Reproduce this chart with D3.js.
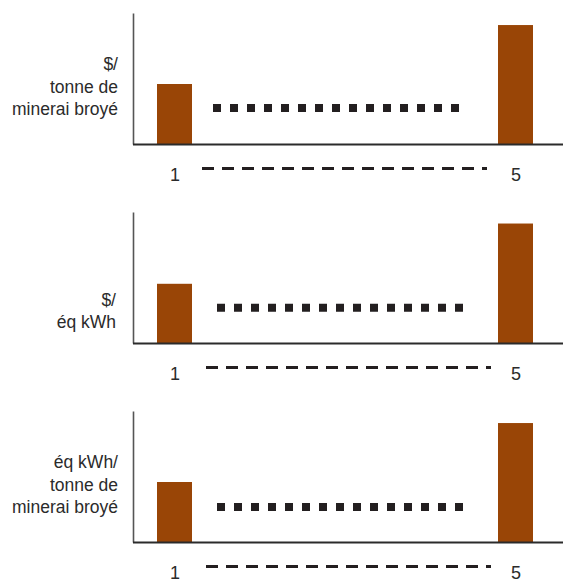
<!DOCTYPE html>
<html>
<head>
<meta charset="utf-8">
<script src="https://cdn.jsdelivr.net/npm/d3@7"></script>
<style>
  html, body { margin: 0; padding: 0; background: #fff; }
  svg { display: block; }
  text { font-family: "Liberation Sans", Arial, sans-serif; fill: #2b2b2b; }
</style>
</head>
<body>
<svg id="chart" width="563" height="582"></svg>
<script>
// ---- data ----
const categories = ["1", "2", "3", "4", "5"];
const shownCategories = ["1", "5"];
const panelLabels = [
  ["$/", "tonne de", "minerai broyé"],
  ["$/", "éq kWh"],
  ["éq kWh/", "tonne de", "minerai broyé"]
];
const firstValues = [45.8, 45.2, 45.8];
const lastValues = [90.8, 91.2, 90.8];
const ellipsisLevels = [27.5, 26.9, 26.7];

// ---- layout ----
const W = 563;
const panelTops = [13, 212, 411];
const panelH = 131;
const axisX = 133;
const barW = 35;
const labelLastBaseline = [102, 116, 102];
const labelRight = [118, 116, 118];
const ellipsisShift = [-4, 0, 0];

const svg = d3.select("#chart");
const x = d3.scalePoint().domain(categories).range([174.5, 515.5]);
const y = d3.scaleLinear().domain([0, 100]).range([panelH, 0]);

panelLabels.forEach((lines, i) => {
  const g = svg.append("g").attr("transform", `translate(0,${panelTops[i]})`);
  const vals = [firstValues[i], lastValues[i]];

  // bars
  g.selectAll("rect.bar").data(shownCategories).join("rect")
    .attr("class", "bar")
    .attr("x", d => x(d) - barW / 2)
    .attr("width", barW)
    .attr("y", (d, k) => y(vals[k]))
    .attr("height", (d, k) => y(0) - y(vals[k]))
    .attr("fill", "#994506");

  // y axis
  const ya = g.append("g").attr("transform", `translate(${axisX},0)`)
    .call(d3.axisLeft(y).tickValues([]).tickSizeOuter(0));
  ya.select(".domain").attr("stroke", "#555").attr("stroke-width", 1.6);

  // x axis line
  g.append("line")
    .attr("x1", axisX).attr("x2", W)
    .attr("y1", y(0) + 0.5).attr("y2", y(0) + 0.5)
    .attr("stroke", "#2b2b2b").attr("stroke-width", 1.8);

  // tick labels
  const xa = g.append("g").attr("transform", `translate(0,${y(0) + 24})`)
    .call(d3.axisBottom(x).tickValues(shownCategories).tickSize(0).tickPadding(0));
  xa.select(".domain").remove();
  xa.selectAll("text")
    .attr("font-size", 18)
    .attr("font-family", "'Liberation Sans', Arial, sans-serif")
    .attr("fill", "#2b2b2b")
    .attr("dy", "0.71em");

  // dotted ellipsis (bars 2..4)
  const ey = y(ellipsisLevels[i]);
  g.append("line")
    .attr("x1", x("1") + barW / 2 + 25 + ellipsisShift[i])
    .attr("x2", x("5") - barW / 2 - 33 + ellipsisShift[i])
    .attr("y1", ey).attr("y2", ey)
    .attr("stroke", "#231f20").attr("stroke-width", 8)
    .attr("stroke-dasharray", "8 9");

  // dashed ellipsis between tick labels
  const dy = y(0) + 24.5;
  g.append("line")
    .attr("x1", x("1") + 31.5 + ellipsisShift[i])
    .attr("x2", x("5") - 24.5 + ellipsisShift[i])
    .attr("y1", dy).attr("y2", dy)
    .attr("stroke", "#231f20").attr("stroke-width", 3)
    .attr("stroke-dasharray", "12 8");

  // y label
  const n = lines.length;
  g.append("g").selectAll("text").data(lines).join("text")
    .attr("x", labelRight[i])
    .attr("y", (d, k) => labelLastBaseline[i] - (n - 1 - k) * 22.5)
    .attr("text-anchor", "end")
    .attr("font-size", 17.5)
    .text(d => d);
});
</script>
</body>
</html>
